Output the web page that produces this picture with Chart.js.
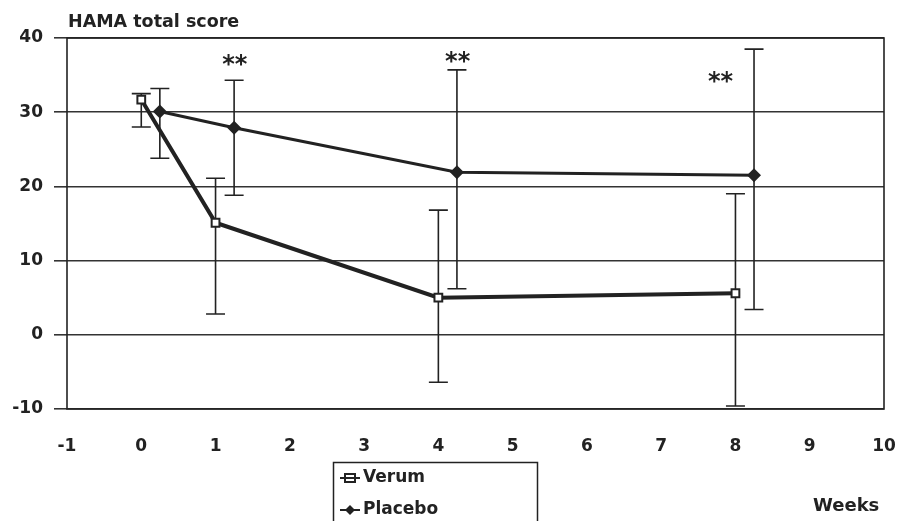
<!DOCTYPE html>
<html>
<head>
<meta charset="utf-8">
<script src="https://cdn.jsdelivr.net/npm/chart.js@4.4.0/dist/chart.umd.min.js"></script>
<style>
  html, body { margin: 0; padding: 0; background: #fff; }
  #wrap { position: relative; width: 897px; height: 521px; }
</style>
</head>
<body>
<div id="wrap"><canvas id="hamaChart" width="897" height="521"></canvas></div>
<script>
// values
const verumWeeks = [0, 1, 4, 8];
const verumMean = [31.7, 15.1, 5.0, 5.6];
const verumHigh = [32.5, 21.1, 16.8, 19.0];
const verumLow = [28.0, 2.8, -6.4, -9.6];

const placeboWeeks = [0.25, 1.25, 4.25, 8.25];
const placeboMean = [30.1, 27.9, 21.9, 21.5];
const placeboHigh = [33.2, 34.3, 35.7, 38.5];
const placeboLow = [23.8, 18.8, 6.2, 3.4];

const starWeeks = [1.26, 4.26, 7.8];
const starScore = [37.2, 37.6, 34.9];

const xTicks = [-1, 0, 1, 2, 3, 4, 5, 6, 7, 8, 9, 10];
const yTicks = [-10, 0, 10, 20, 30, 40];

const ink = "#222";
const font = "'DejaVu Sans', sans-serif";

function toPoints(xs, ys) {
    return xs.map((x, i) => ({ x: x, y: ys[i] }));
}

const errorBars = {
    id: "errorBars",
    beforeDatasetsDraw(chart) {
        const ctx = chart.ctx;
        const xs = chart.scales.x, ys = chart.scales.y;
        const sets = [
            [verumWeeks, verumHigh, verumLow],
            [placeboWeeks, placeboHigh, placeboLow]
        ];
        ctx.save();
        ctx.strokeStyle = ink;
        ctx.lineWidth = 1.6;
        sets.forEach(function (s) {
            s[0].forEach(function (w, i) {
                const px = xs.getPixelForValue(w);
                const top = ys.getPixelForValue(s[1][i]);
                const bot = ys.getPixelForValue(s[2][i]);
                ctx.beginPath();
                ctx.moveTo(px, top); ctx.lineTo(px, bot);
                ctx.moveTo(px - 9.5, top); ctx.lineTo(px + 9.5, top);
                ctx.moveTo(px - 9.5, bot); ctx.lineTo(px + 9.5, bot);
                ctx.stroke();
            });
        });
        ctx.restore();
    },
    afterDraw(chart) {
        const ctx = chart.ctx;
        const a = chart.chartArea;
        const xs = chart.scales.x, ys = chart.scales.y;
        ctx.save();
        // plot frame
        ctx.strokeStyle = ink;
        ctx.lineWidth = 1.6;
        ctx.strokeRect(a.left, a.top, a.right - a.left, a.bottom - a.top);

        // significance stars
        ctx.fillStyle = ink;
        ctx.font = "bold 24px " + font;
        ctx.textAlign = "center";
        ctx.textBaseline = "alphabetic";
        starWeeks.forEach(function (w, i) {
            ctx.fillText("**", xs.getPixelForValue(w), ys.getPixelForValue(starScore[i]) + 13.5);
        });

        // axis captions
        ctx.font = "bold 17.5px " + font;
        ctx.textAlign = "left";
        ctx.textBaseline = "middle";
        ctx.fillText("HAMA total score", 68, 22);
        ctx.font = "bold 18px " + font;
        ctx.fillText("Weeks", 813, 506);

        // legend box
        ctx.lineWidth = 1.5;
        ctx.strokeRect(333.5, 462.5, 204, 80);
        const rows = [478, 510];
        chart.data.datasets.forEach(function (ds, i) {
            const y = rows[i];
            ctx.strokeStyle = ink;
            ctx.lineWidth = 2;
            ctx.beginPath();
            ctx.moveTo(340, y); ctx.lineTo(360, y);
            ctx.stroke();
            if (ds.pointStyle === "rect") {
                ctx.fillStyle = "#fff";
                ctx.fillRect(345, y - 4, 10, 8);
                ctx.strokeRect(345, y - 4, 10, 8);
                ctx.beginPath();
                ctx.moveTo(345, y); ctx.lineTo(355, y);
                ctx.stroke();
            } else {
                ctx.fillStyle = ink;
                ctx.beginPath();
                ctx.moveTo(350, y - 5); ctx.lineTo(355, y);
                ctx.lineTo(350, y + 5); ctx.lineTo(345, y);
                ctx.closePath();
                ctx.fill();
            }
            ctx.fillStyle = ink;
            ctx.font = "bold 17px " + font;
            ctx.textAlign = "left";
            ctx.textBaseline = "middle";
            ctx.fillText(ds.label, 363, y);
        });
        ctx.restore();
    }
};

new Chart(document.getElementById("hamaChart").getContext("2d"), {
    type: "scatter",
    data: {
        datasets: [
            {
                label: "Verum",
                data: toPoints(verumWeeks, verumMean),
                showLine: true,
                borderColor: ink,
                borderWidth: 4,
                pointStyle: "rect",
                pointRadius: 5.5,
                pointBorderWidth: 2,
                pointBackgroundColor: "#fff",
                pointBorderColor: ink,
                order: 1
            },
            {
                label: "Placebo",
                data: toPoints(placeboWeeks, placeboMean),
                showLine: true,
                borderColor: ink,
                borderWidth: 3,
                pointStyle: "rectRot",
                pointRadius: 7,
                pointBorderWidth: 0,
                pointBackgroundColor: ink,
                pointBorderColor: ink,
                order: 2
            }
        ]
    },
    options: {
        responsive: false,
        animation: false,
        layout: { padding: { left: 0, right: 13, top: 38, bottom: 0 } },
        plugins: {
            legend: { display: false },
            tooltip: { enabled: false }
        },
        scales: {
            x: {
                type: "linear",
                min: -1,
                max: 10,
                afterBuildTicks: function (axis) {
                    axis.ticks = xTicks.map(v => ({ value: v }));
                },
                afterFit: function (axis) {
                    axis.height = 112;
                    axis.paddingLeft = 0;
                    axis.paddingRight = 0;
                },
                grid: { display: false },
                border: { display: false },
                ticks: {
                    color: ink,
                    padding: 19,
                    font: { family: font, size: 17, weight: "bold" }
                }
            },
            y: {
                min: -10,
                max: 40,
                afterBuildTicks: function (axis) {
                    axis.ticks = yTicks.map(v => ({ value: v }));
                },
                afterFit: function (axis) {
                    axis.width = 67;
                    axis.paddingTop = 0;
                    axis.paddingBottom = 0;
                },
                grid: {
                    color: "#333",
                    lineWidth: 1.6,
                    tickLength: 13,
                    tickColor: "#333"
                },
                border: { display: false },
                ticks: {
                    color: ink,
                    padding: 11,
                    font: { family: font, size: 17, weight: "bold" }
                }
            }
        }
    },
    plugins: [errorBars]
});
</script>
</body>
</html>
